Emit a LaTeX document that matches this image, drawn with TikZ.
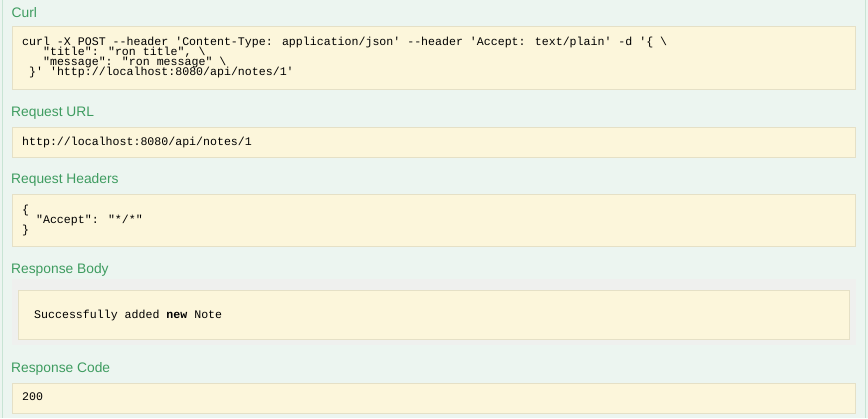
\documentclass[tikz,border=0pt]{standalone}
\usepackage{fontspec}
\setmainfont{Liberation Sans}
\newfontfamily\codefont[Ligatures=TeXOff]{Liberation Mono}
\usepackage{tikz}
\usetikzlibrary{positioning}
\definecolor{pagebg}{RGB}{236,245,240}
\definecolor{pageline}{RGB}{200,228,212}
\definecolor{boxfill}{RGB}{252,246,219}
\definecolor{boxline}{RGB}{229,224,198}
\definecolor{greyfill}{RGB}{239,240,238}
\definecolor{headgreen}{RGB}{62,156,96}
\tikzset{
  heading/.style={anchor=base west,inner sep=0pt,text=headgreen,
    font=\fontsize{13.8}{16}\selectfont},
  code/.style={anchor=base west,inner sep=0pt,text=black,
    font=\codefont\fontsize{11.6}{10}\selectfont},
  codebox/.style={fill=boxfill,draw=boxline,line width=1pt}
}

\begin{document}
\begin{tikzpicture}[x=1pt,y=-1pt]
% Page
\fill [pagebg] (0,0) rectangle (868,418);
\useasboundingbox (0,0) rectangle (868,418);
\draw [pageline] (2.5,0) -- (2.5,418);
\draw [pageline] (865.5,0) -- (865.5,418);

% Curl
\node [heading] (curlhead) at (11.5,17) {Curl};
\draw [codebox] (12.5,26.5) rectangle (855.5,89.5);
\node [code] (curl1) at (22,45)
  {curl -X POST --header 'Content-Type: application/json' --header 'Accept: text/plain' -d '\{ \textbackslash};
\node [code] (curl2) at (42.9,55) {"title": "ron title", \textbackslash};
\node [code] (curl3) at (42.9,65) {"message": "ron message" \textbackslash};
\node [code] (curl4) at (29,75) {\}' 'http://localhost:8080/api/notes/1'};

% Request URL
\node [heading] (urlhead) at (11,116.5) {Request URL};
\draw [codebox] (12.5,127.5) rectangle (855.5,157.5);
\node [code] (url) at (22,145) {http://localhost:8080/api/notes/1};

% Request Headers
\node [heading] (headershead) at (11,183) {Request Headers};
\draw [codebox] (12.5,194.5) rectangle (855.5,246.5);
\node [code] (hdr1) at (22,213) {\{};
\node [code] (hdr2) at (35.9,223) {"Accept": "*/*"};
\node [code] (hdr3) at (22,233) {\}};

% Response Body
\node [heading] (bodyhead) at (11,273.5) {Response Body};
\fill [greyfill] (12,279) rectangle (856,345);
\draw [codebox] (18.5,290.5) rectangle (849.5,339.5);
\node [code] (body) at (34,318) {Successfully added \textbf{new} Note};

% Response Code
\node [heading] (codehead) at (11,372) {Response Code};
\draw [codebox] (12.5,383.5) rectangle (855.5,413.5);
\node [code] (status) at (22,400) {200};
\end{tikzpicture}
\end{document}
